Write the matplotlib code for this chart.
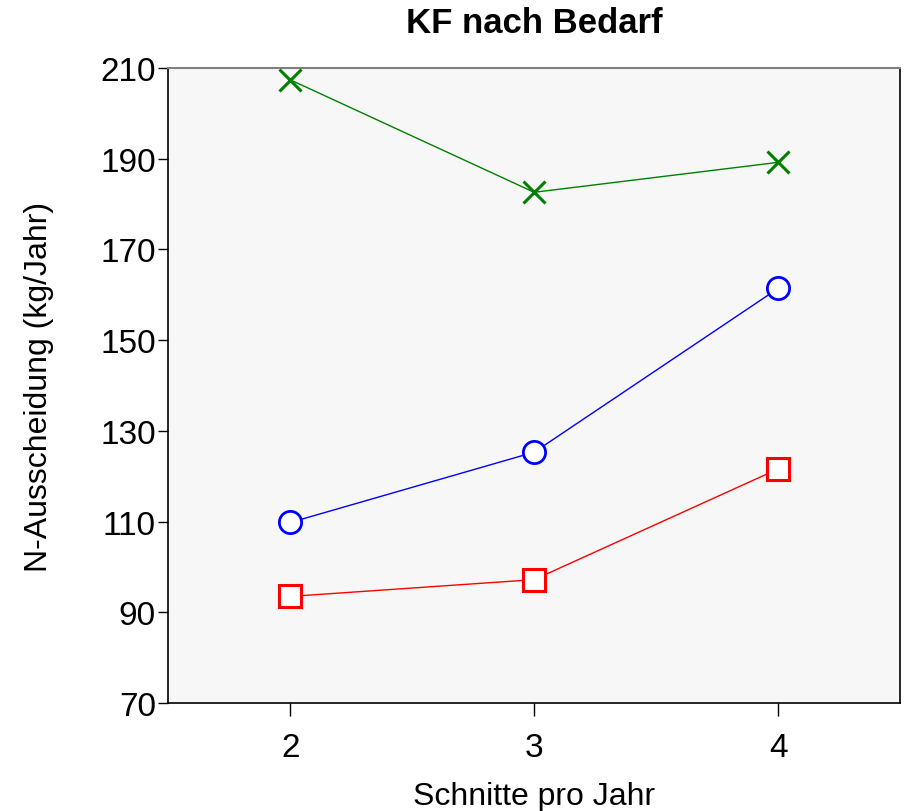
import matplotlib
matplotlib.use("Agg")
import matplotlib.pyplot as plt

schnitte = [2, 3, 4]
serie_gruen = [207.4, 182.6, 189.2]
serie_blau = [109.8, 125.3, 161.4]
serie_rot = [93.5, 97.2, 121.6]
y_ticks = [70, 90, 110, 130, 150, 170, 190, 210]

plt.rcParams["font.family"] = ["Liberation Sans", "DejaVu Sans"]

fig = plt.figure(figsize=(9.06, 8.12), dpi=100)
ax = fig.add_axes([0.1858, 0.133, 0.8076, 0.782])
ax.set_facecolor("#f7f7f7")

ax.plot(schnitte, serie_gruen, color="#008000", lw=1, marker="x",
        ms=16, mew=2.2, zorder=3)
ax.plot(schnitte, serie_blau, color="#0000ff", lw=1, marker="o",
        ms=16, mew=2, mfc="white", zorder=3)
ax.plot(schnitte, serie_rot, color="#ff0000", lw=1, marker="s",
        ms=16, mew=2.2, mfc="white", zorder=3)

ax.set_xlim(1.5, 4.5)
ax.set_ylim(70, 210)
ax.set_xticks(schnitte)
ax.set_yticks(y_ticks)
ax.tick_params(axis="both", labelsize=24, width=1, color="black")
ax.tick_params(axis="x", length=9, pad=12)
ax.tick_params(axis="y", length=7, pad=2)

for side in ("left", "bottom", "right"):
    ax.spines[side].set_color("black")
    ax.spines[side].set_linewidth(1.2)
ax.spines["top"].set_color("#808080")
ax.spines["top"].set_linewidth(1.5)

ax.set_title("KF nach Bedarf", fontsize=25, fontweight="bold", pad=26)
ax.set_xlabel("Schnitte pro Jahr", fontsize=23, labelpad=13)
ax.set_ylabel("N-Ausscheidung (kg/Jahr)", fontsize=23, labelpad=33)

fig.savefig("out.png", dpi=100)
